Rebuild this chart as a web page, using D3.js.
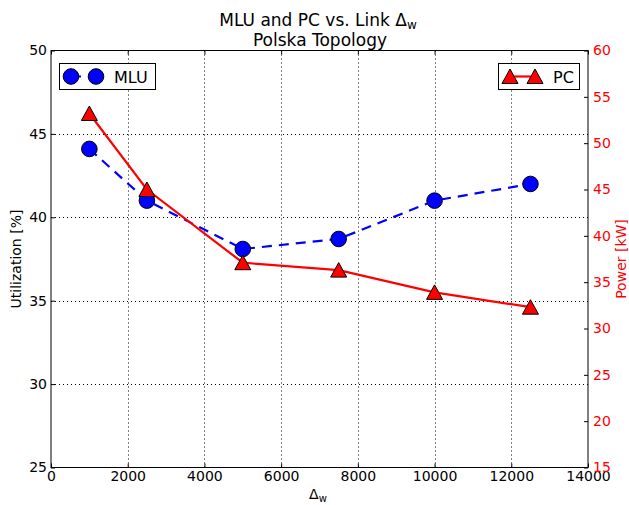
<!DOCTYPE html>
<html><head><meta charset="utf-8">
<script src="https://cdn.jsdelivr.net/npm/d3@7"></script>
<style>
html,body{margin:0;padding:0;background:#fff;}
svg{display:block;font-family:"DejaVu Sans",sans-serif;}
</style></head>
<body><svg id="chart" width="629" height="505"></svg>
<script>
const deltaW = [1000, 2500, 5000, 7500, 10000, 12500];
const mluValues = [44.1, 41.0, 38.1, 38.7, 41.0, 42.0];
const pcValues = [53.2, 45.0, 37.1, 36.3, 33.9, 32.3];
const xTicks = [0, 2000, 4000, 6000, 8000, 10000, 12000, 14000];
const yLeftTicks = [25, 30, 35, 40, 45, 50];
const yRightTicks = [15, 20, 25, 30, 35, 40, 45, 50, 55, 60];

const svg = d3.select("#chart");
const L = 51, R = 588, T = 50.5, B = 467.5;
const x = d3.scaleLinear().domain([0, 14000]).range([L, R]);
const yL = d3.scaleLinear().domain([25, 50]).range([B, T]);
const yR = d3.scaleLinear().domain([15, 60]).range([B, T]);

// grid
const grid = svg.append("g").attr("stroke", "#000").attr("stroke-width", 1).attr("stroke-dasharray", "1,3");
xTicks.slice(1, -1).forEach(v => grid.append("line").attr("x1", Math.round(x(v)) + 0.5).attr("x2", Math.round(x(v)) + 0.5).attr("y1", T).attr("y2", B));
yLeftTicks.slice(1, -1).forEach(v => grid.append("line").attr("y1", Math.round(yL(v)) + 0.5).attr("y2", Math.round(yL(v)) + 0.5).attr("x1", L).attr("x2", R));

// axes
const fs = "14px";
const xAxisB = d3.axisBottom(x).tickValues(xTicks).tickFormat(d3.format("d")).tickSizeInner(-4).tickSizeOuter(0).tickPadding(4);
const gxb = svg.append("g").attr("transform", `translate(0,${B})`).call(xAxisB);
const xAxisT = d3.axisTop(x).tickValues(xTicks).tickFormat("").tickSizeInner(-4).tickSizeOuter(0);
const gxt = svg.append("g").attr("transform", `translate(0,${T})`).call(xAxisT);
const yAxisL = d3.axisLeft(yL).tickValues(yLeftTicks).tickSizeInner(-4).tickSizeOuter(0).tickPadding(4);
const gyl = svg.append("g").attr("transform", `translate(${L},0)`).call(yAxisL);
const yAxisR = d3.axisRight(yR).tickValues(yRightTicks).tickSizeInner(-4).tickSizeOuter(0).tickPadding(5);
const gyr = svg.append("g").attr("transform", `translate(${R},0)`).call(yAxisR);
[gxb, gxt, gyl, gyr].forEach(g => {
  g.select(".domain").remove();
  g.selectAll("text").style("font-size", fs).style("font-family", "DejaVu Sans").attr("fill", "#000");
  g.selectAll("line").attr("stroke", "#000");
});
gyr.selectAll("text").attr("fill", "#f00");
gxb.selectAll("text").attr("dy", "0.71em");

// frame
svg.append("rect").attr("x", L).attr("y", T).attr("width", R - L).attr("height", B - T)
  .attr("fill", "none").attr("stroke", "#000").attr("stroke-width", 1);

// MLU series
const mluLine = d3.line().x((d, i) => x(deltaW[i])).y(d => yL(d));
svg.append("path").datum(mluValues).attr("d", mluLine).attr("fill", "none")
  .attr("stroke", "#0000ff").attr("stroke-width", 2.2).attr("stroke-dasharray", "10,7");
svg.append("g").selectAll("circle").data(mluValues).join("circle")
  .attr("cx", (d, i) => x(deltaW[i])).attr("cy", d => yL(d)).attr("r", 7.8)
  .attr("fill", "#0000ff").attr("stroke", "#000").attr("stroke-width", 1);

// PC series
const triPath = "M0,-7.5L8,7L-8,7Z";
const pcLine = d3.line().x((d, i) => x(deltaW[i])).y(d => yR(d));
svg.append("path").datum(pcValues).attr("d", pcLine).attr("fill", "none")
  .attr("stroke", "#ff0000").attr("stroke-width", 2.2);
svg.append("g").selectAll("path").data(pcValues).join("path")
  .attr("d", triPath).attr("transform", (d, i) => `translate(${x(deltaW[i])},${yR(d)})`)
  .attr("fill", "#ff0000").attr("stroke", "#000").attr("stroke-width", 1);

// legends
const lg1 = svg.append("g");
lg1.append("rect").attr("x", 59.5).attr("y", 63.5).attr("width", 96).attr("height", 26).attr("fill", "#fff").attr("stroke", "#000");
lg1.append("line").attr("x1", 71).attr("x2", 96).attr("y1", 76.5).attr("y2", 76.5).attr("stroke", "#0000ff").attr("stroke-width", 2.2).attr("stroke-dasharray", "10,7");
[71, 96].forEach(cx => lg1.append("circle").attr("cx", cx).attr("cy", 76.5).attr("r", 7.8).attr("fill", "#0000ff").attr("stroke", "#000"));
lg1.append("text").attr("x", 114).attr("y", 82.5).text("MLU").style("font-size", "16px");

const lg2 = svg.append("g");
lg2.append("rect").attr("x", 498.5).attr("y", 63.5).attr("width", 81).attr("height", 26).attr("fill", "#fff").attr("stroke", "#000");
lg2.append("line").attr("x1", 510).attr("x2", 535).attr("y1", 76.5).attr("y2", 76.5).attr("stroke", "#ff0000").attr("stroke-width", 2.2);
[510, 535].forEach(cx => lg2.append("path").attr("d", triPath).attr("transform", `translate(${cx},76.5)`).attr("fill", "#ff0000").attr("stroke", "#000"));
lg2.append("text").attr("x", 553).attr("y", 82.5).text("PC").style("font-size", "16px");

// titles
const title = svg.append("text").attr("x", 318).attr("y", 26).attr("text-anchor", "middle").style("font-size", "17px");
title.append("tspan").text("MLU and PC vs. Link Δ");
title.append("tspan").attr("dy", 3).style("font-size", "12px").text("w");
svg.append("text").attr("x", 320).attr("y", 46).attr("text-anchor", "middle").style("font-size", "17px").text("Polska Topology");

// axis labels
const xl = svg.append("text").attr("x", 318).attr("y", 499).attr("text-anchor", "middle").style("font-size", "14px");
xl.append("tspan").text("Δ");
xl.append("tspan").attr("dy", 3).style("font-size", "10px").text("w");
svg.append("text").attr("transform", `translate(21,${(T + B) / 2}) rotate(-90)`).attr("text-anchor", "middle").style("font-size", "14px").text("Utilization [%]");
svg.append("text").attr("transform", `translate(626,${(T + B) / 2}) rotate(-90)`).attr("text-anchor", "middle").attr("fill", "#f00").style("font-size", "14px").text("Power [kW]");
</script></body></html>
